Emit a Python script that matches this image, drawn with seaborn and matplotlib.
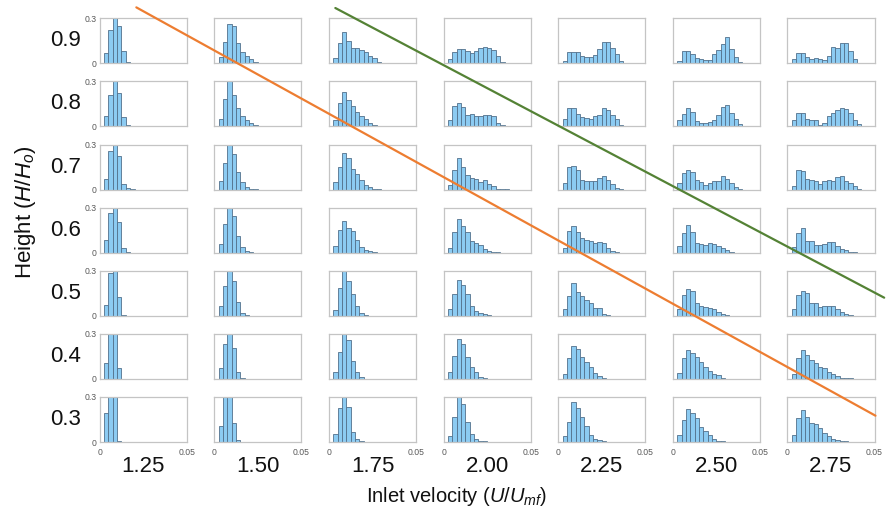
import numpy as np
import pandas as pd
import matplotlib
matplotlib.use("Agg")
import matplotlib.pyplot as plt
import seaborn as sns

# ---------------- data ----------------
velocities = [1.25, 1.50, 1.75, 2.00, 2.25, 2.50, 2.75]
velocity_labels = ["1.25", "1.50", "1.75", "2.00", "2.25", "2.50", "2.75"]
heights = [0.9, 0.8, 0.7, 0.6, 0.5, 0.4, 0.3]
height_labels = ["0.9", "0.8", "0.7", "0.6", "0.5", "0.4", "0.3"]
bin_width = 0.0025
first_edge = 0.0025

freq_h09 = [
    [0.07, 0.22, 0.36, 0.25, 0.08, 0.007, 0.002, 0.004],
    [0.04, 0.14, 0.26, 0.25, 0.135, 0.073, 0.05, 0.03, 0.01, 0.003],
    [0.033, 0.133, 0.21, 0.147, 0.10, 0.10, 0.089, 0.078, 0.049, 0.033, 0.007],
    [0.027, 0.078, 0.093, 0.095, 0.082, 0.067, 0.084, 0.10, 0.107, 0.10, 0.089, 0.049, 0.011],
    [0.018, 0.078, 0.075, 0.073, 0.05, 0.04, 0.04, 0.056, 0.093, 0.144, 0.14, 0.10, 0.06, 0.016],
    [0.018, 0.082, 0.082, 0.06, 0.033, 0.027, 0.022, 0.022, 0.062, 0.089, 0.127, 0.173, 0.095, 0.04, 0.011],
    [0.027, 0.067, 0.067, 0.044, 0.029, 0.036, 0.027, 0.022, 0.051, 0.107, 0.104, 0.133, 0.133, 0.082, 0.029, 0.002],
]
freq_h08 = [
    [0.07, 0.21, 0.34, 0.22, 0.066, 0.009, 0.006, 0.002],
    [0.05, 0.18, 0.32, 0.21, 0.12, 0.07, 0.04, 0.02, 0.007],
    [0.042, 0.153, 0.23, 0.177, 0.133, 0.098, 0.07, 0.05, 0.022, 0.013, 0.002],
    [0.046, 0.133, 0.157, 0.129, 0.078, 0.082, 0.072, 0.067, 0.078, 0.076, 0.067, 0.02, 0.009, 0.002],
    [0.05, 0.12, 0.125, 0.085, 0.06, 0.057, 0.05, 0.068, 0.078, 0.122, 0.111, 0.078, 0.05, 0.007],
    [0.04, 0.082, 0.122, 0.096, 0.039, 0.024, 0.024, 0.033, 0.046, 0.074, 0.129, 0.14, 0.09, 0.05, 0.017],
    [0.04, 0.09, 0.09, 0.05, 0.046, 0.04, 0.013, 0.024, 0.067, 0.09, 0.11, 0.12, 0.116, 0.09, 0.04, 0.017],
]
freq_h07 = [
    [0.073, 0.258, 0.33, 0.224, 0.036, 0.009, 0.002],
    [0.058, 0.18, 0.32, 0.236, 0.118, 0.051, 0.018, 0.004, 0.002],
    [0.051, 0.147, 0.244, 0.207, 0.14, 0.102, 0.062, 0.029, 0.016, 0.007, 0.002],
    [0.03, 0.133, 0.207, 0.147, 0.10, 0.08, 0.073, 0.051, 0.062, 0.04, 0.022, 0.007, 0.002, 0.002],
    [0.044, 0.147, 0.156, 0.133, 0.062, 0.056, 0.056, 0.058, 0.078, 0.089, 0.067, 0.04, 0.013, 0.002],
    [0.044, 0.113, 0.133, 0.118, 0.062, 0.051, 0.033, 0.047, 0.058, 0.058, 0.091, 0.073, 0.044, 0.018, 0.007],
    [0.027, 0.127, 0.124, 0.069, 0.064, 0.056, 0.038, 0.056, 0.062, 0.058, 0.082, 0.089, 0.058, 0.047, 0.022, 0.002],
]
freq_h06 = [
    [0.084, 0.262, 0.34, 0.207, 0.029, 0.002],
    [0.058, 0.19, 0.33, 0.243, 0.108, 0.038, 0.009, 0.002],
    [0.047, 0.153, 0.212, 0.162, 0.143, 0.084, 0.036, 0.018, 0.009, 0.002],
    [0.033, 0.139, 0.223, 0.179, 0.135, 0.077, 0.066, 0.051, 0.024, 0.011, 0.004, 0.002],
    [0.03, 0.146, 0.179, 0.139, 0.10, 0.082, 0.077, 0.062, 0.068, 0.062, 0.029, 0.011, 0.002],
    [0.044, 0.128, 0.183, 0.135, 0.062, 0.055, 0.051, 0.062, 0.055, 0.044, 0.029, 0.018, 0.007],
    [0.04, 0.128, 0.161, 0.077, 0.077, 0.051, 0.051, 0.055, 0.073, 0.068, 0.046, 0.024, 0.018, 0.007, 0.002],
]
freq_h05 = [
    [0.073, 0.282, 0.34, 0.127, 0.003],
    [0.062, 0.198, 0.33, 0.233, 0.091, 0.016, 0.002],
    [0.04, 0.182, 0.31, 0.229, 0.144, 0.064, 0.02, 0.007],
    [0.048, 0.147, 0.239, 0.208, 0.147, 0.066, 0.031, 0.02, 0.011, 0.004],
    [0.042, 0.129, 0.217, 0.16, 0.129, 0.107, 0.085, 0.053, 0.053, 0.015, 0.007],
    [0.042, 0.14, 0.18, 0.162, 0.088, 0.066, 0.059, 0.055, 0.046, 0.026, 0.011, 0.004],
    [0.048, 0.136, 0.162, 0.153, 0.085, 0.085, 0.059, 0.066, 0.066, 0.064, 0.048, 0.026, 0.011, 0.004],
]
freq_h04 = [
    [0.104, 0.34, 0.34, 0.073],
    [0.073, 0.233, 0.34, 0.207, 0.044, 0.004],
    [0.044, 0.178, 0.32, 0.256, 0.122, 0.049, 0.011, 0.002],
    [0.044, 0.151, 0.265, 0.234, 0.147, 0.077, 0.044, 0.015, 0.007, 0.002],
    [0.031, 0.142, 0.219, 0.201, 0.147, 0.114, 0.077, 0.042, 0.02, 0.007],
    [0.037, 0.136, 0.195, 0.175, 0.147, 0.114, 0.077, 0.053, 0.031, 0.024, 0.004],
    [0.031, 0.142, 0.19, 0.158, 0.125, 0.103, 0.077, 0.07, 0.048, 0.031, 0.02, 0.009, 0.004, 0.004],
]
freq_h03 = [
    [0.193, 0.34, 0.34, 0.004],
    [0.109, 0.34, 0.34, 0.126, 0.013],
    [0.052, 0.226, 0.32, 0.235, 0.067, 0.017, 0.004],
    [0.041, 0.169, 0.31, 0.25, 0.136, 0.053, 0.02, 0.007, 0.004],
    [0.041, 0.131, 0.267, 0.228, 0.164, 0.107, 0.048, 0.02, 0.011, 0.004],
    [0.048, 0.147, 0.223, 0.195, 0.158, 0.103, 0.074, 0.044, 0.02, 0.009, 0.004],
    [0.048, 0.158, 0.212, 0.169, 0.125, 0.12, 0.092, 0.059, 0.037, 0.022, 0.011, 0.004, 0.004],
]
freq_rows = [freq_h09, freq_h08, freq_h07, freq_h06, freq_h05, freq_h04, freq_h03]

# guide lines, in (velocity, height) units
orange_velocity = [1.235, 2.847]
orange_height = [0.953, 0.306]
green_velocity = [1.669, 2.866]
green_height = [0.952, 0.493]

# ---------------- style ----------------
sns.set_theme(style="white")
plt.rcParams["font.family"] = ["Liberation Sans", "DejaVu Sans"]
plt.rcParams["mathtext.fontset"] = "custom"
plt.rcParams["mathtext.rm"] = "Liberation Sans"
plt.rcParams["mathtext.it"] = "Liberation Sans:italic"

bar_fill = "#8CCBF2"
bar_edge = "#52718C"
frame_col = "#C4C4C4"
tick_col = "#595959"
text_col = "#111111"

fig, axes = plt.subplots(
    7, 7, figsize=(8.91, 5.21), dpi=100,
    gridspec_kw=dict(left=0.1119, right=0.9815, top=0.9649, bottom=0.1516,
                     wspace=0.317, hspace=0.4),
)

for i, row in enumerate(freq_rows):
    for j, vals in enumerate(row):
        ax = axes[i, j]
        n = len(vals)
        centers = first_edge + bin_width * (np.arange(n) + 0.5)
        df = pd.DataFrame({"diameter": centers, "fraction": vals})
        sns.histplot(data=df, x="diameter", weights="fraction",
                     binwidth=bin_width,
                     binrange=(first_edge, first_edge + bin_width * n),
                     ax=ax, color=bar_fill, edgecolor=bar_edge, linewidth=0.6,
                     alpha=1.0)
        ax.set_xlim(0, 0.05)
        ax.set_ylim(0, 0.3)
        ax.set_xlabel("")
        ax.set_ylabel("")
        ax.set_xticks([0, 0.05])
        ax.set_yticks([0, 0.3])
        ax.tick_params(axis="y", length=0, labelsize=6.2, labelcolor=tick_col, pad=2)
        ax.tick_params(axis="x", length=0, labelsize=6.2, labelcolor=tick_col, pad=4)
        if j == 0:
            ax.set_yticklabels(["0", "0.3"])
        else:
            ax.set_yticklabels([])
        if i == len(freq_rows) - 1:
            ax.set_xticklabels(["0", "0.05"])
        else:
            ax.set_xticklabels([])
        for s in ax.spines.values():
            s.set_color(frame_col)
            s.set_linewidth(0.9)

# row and column labels
for i, lab in enumerate(height_labels):
    pos = axes[i, 0].get_position()
    fig.text(0.091, (pos.y0 + pos.y1) / 2, lab, ha="right", va="center",
             fontsize=16, color=text_col)
for j, lab in enumerate(velocity_labels):
    pos = axes[-1, j].get_position()
    fig.text((pos.x0 + pos.x1) / 2, 1 - 466 / 521, lab, ha="center",
             va="center", fontsize=16, color=text_col)

fig.text(457 / 891, 1 - 497 / 521, r"Inlet velocity ($\mathit{U/U_{mf}}$)",
         ha="center", va="center", fontsize=14.5, color=text_col)
fig.text(25 / 891, 1 - 212 / 521, r"Height ($\mathit{H/H_o}$)",
         ha="center", va="center", rotation=90, fontsize=16, color=text_col)

# overlay axis mapping velocity/height to the grid of panels
p00 = axes[0, 0].get_position()
p66 = axes[-1, -1].get_position()
cx0 = (p00.x0 + p00.x1) / 2
cx6 = (p66.x0 + p66.x1) / 2
cy0 = (p00.y0 + p00.y1) / 2
cy6 = (p66.y0 + p66.y1) / 2
sx = (velocities[-1] - velocities[0]) / (cx6 - cx0)
sy = (heights[0] - heights[-1]) / (cy0 - cy6)
over = fig.add_axes([0, 0, 1, 1], facecolor="none")
over.set_xlim(velocities[0] - cx0 * sx, velocities[0] + (1 - cx0) * sx)
over.set_ylim(heights[-1] - cy6 * sy, heights[-1] + (1 - cy6) * sy)
over.axis("off")
sns.lineplot(x=orange_velocity, y=orange_height, ax=over, color="#ED7D31",
             linewidth=1.6, sort=False)
sns.lineplot(x=green_velocity, y=green_height, ax=over, color="#548235",
             linewidth=1.6, sort=False)

fig.savefig("out.png", dpi=100)
